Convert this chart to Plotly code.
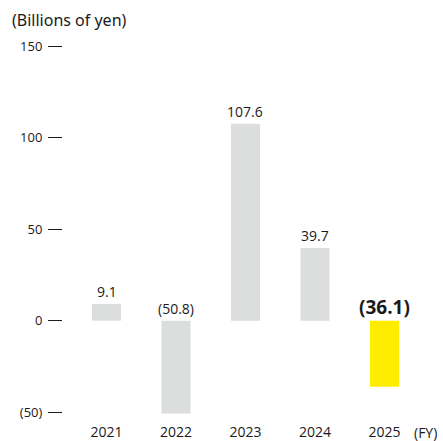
import plotly.graph_objects as go

# Fiscal years and values (billions of yen); negatives shown in parentheses
years = ["2021", "2022", "2023", "2024", "2025"]
values = [9.1, -50.8, 107.6, 39.7, -36.1]
value_labels = ["9.1", "(50.8)", "107.6", "39.7", "(36.1)"]
bar_colors = ["#dcdddd", "#dcdddd", "#dcdddd", "#dcdddd", "#ffed00"]

tick_vals = [-50, 0, 50, 100, 150]
tick_text = ["(50)", "0", "50", "100", "150"]

W, H = 443, 441
ML, MR, MT, MB = 63, 13, 28, 19
FONT = "Open Sans"

fig = go.Figure(
    go.Bar(
        x=list(range(len(years))),
        y=values,
        marker=dict(color=bar_colors, line=dict(width=0)),
        width=0.417,
        hoverinfo="skip",
    )
)

# Value labels sit above the bar top (positive) or above the zero line (negative);
# the latest year is emphasised in bold
for i, (v, lab) in enumerate(zip(values, value_labels)):
    last = i == len(values) - 1
    fig.add_annotation(
        x=i, y=max(v, 0), text="<b>" + lab + "</b>" if last else lab,
        showarrow=False, xanchor="center", yanchor="bottom", yshift=-1 if last else 1,
        font=dict(family=FONT, size=19 if last else 14, color="#1a1a1a"),
    )

def px_x(p):
    return (p - ML) / (W - ML - MR)

def px_y(p):
    return 1 - (p - MT) / (H - MT - MB)

fig.add_annotation(
    xref="paper", yref="paper", x=px_x(10), y=px_y(20),
    xanchor="left", yanchor="middle", showarrow=False,
    text="(Billions of yen)", font=dict(family="Noto Sans", size=16, color="#1a1a1a"),
)
fig.add_annotation(
    xref="paper", yref="paper", x=px_x(412), y=px_y(432),
    xanchor="left", yanchor="middle", showarrow=False,
    text="(FY)", font=dict(family=FONT, size=14, color="#1a1a1a"),
)

fig.update_layout(
    width=W, height=H,
    margin=dict(l=ML, r=MR, t=MT, b=MB),
    plot_bgcolor="white", paper_bgcolor="white",
    showlegend=False,
    xaxis=dict(
        range=[-0.626, 4.655],
        tickmode="array", tickvals=list(range(len(years))), ticktext=years,
        showgrid=False, zeroline=False, showline=False, ticks="",
        tickfont=dict(family=FONT, size=14, color="#1a1a1a"),
        automargin=False,
        fixedrange=True,
    ),
    yaxis=dict(
        range=[-55.4, 160],
        tickmode="array", tickvals=tick_vals, ticktext=tick_text,
        showgrid=False, zeroline=False, showline=False,
        ticks="outside", ticklen=14, tickwidth=1.2, tickcolor="#1a1a1a",
        ticklabelstandoff=3,
        tickfont=dict(family=FONT, size=13, color="#1a1a1a"),
        automargin=False,
        fixedrange=True,
    ),
)

fig.write_html("out.html")
